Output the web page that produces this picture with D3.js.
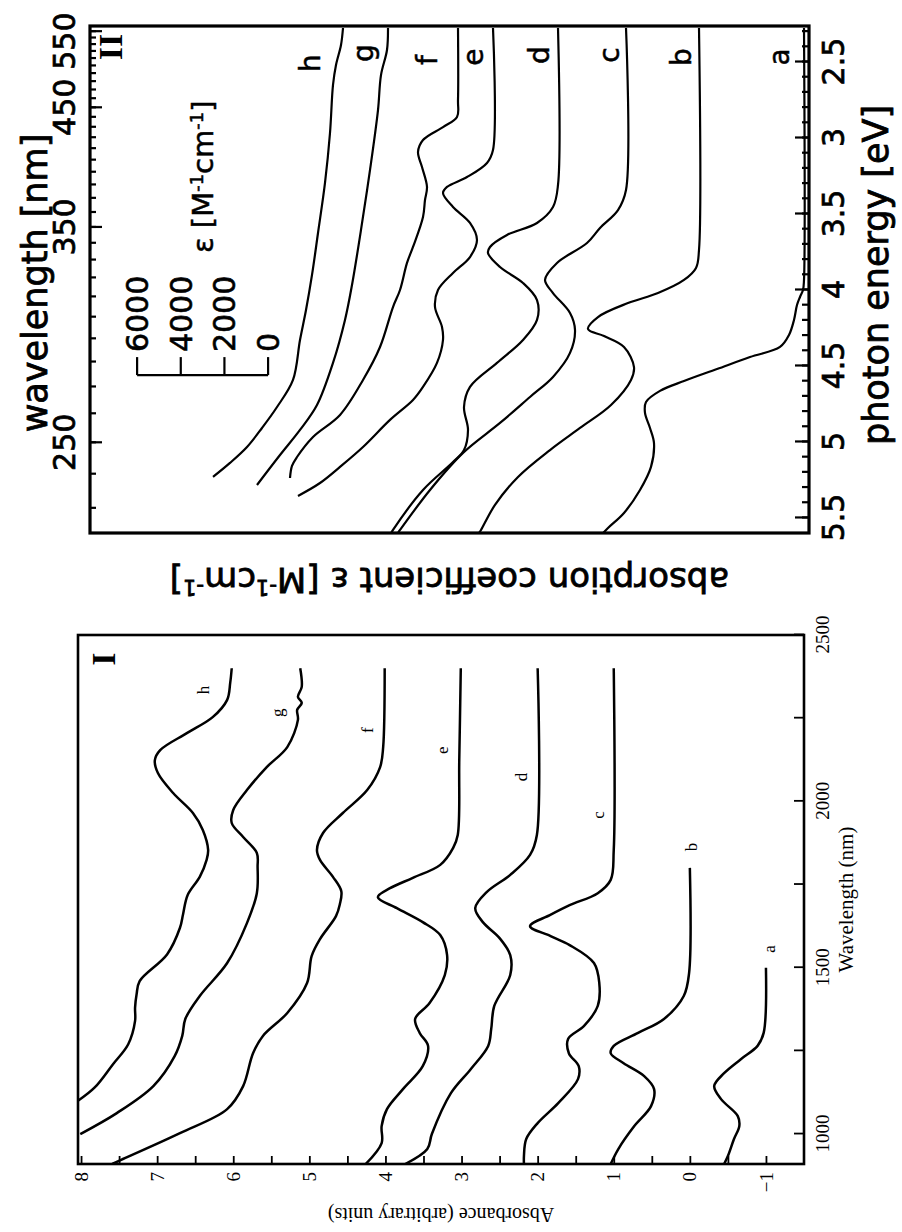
<!DOCTYPE html>
<html>
<head>
<meta charset="utf-8">
<script src="https://cdn.jsdelivr.net/npm/d3@7"></script>
<style>
  body { margin: 0; background: #fff; }
  .nir text { font-family: "Liberation Serif", "Times New Roman", serif; fill: #000; }
  .uv text { font-family: "DejaVu Sans", sans-serif; fill: #000; }
</style>
</head>
<body>
<div id="chart"></div>
<script>
// ---- Panel I: NIR absorbance, [wavelength nm, absorbance] ----
const nirNames = ["a", "b", "c", "d", "e", "f", "g", "h"];
const nirA = [[1500,-1.0],[1304,-0.97],[1265,-0.89],[1225,-0.67],[1183,-0.45],[1144,-0.32],[1105,-0.41],[1054,-0.63],[1024,-0.65],[985,-0.58],[934,-0.50],[910,-0.45]];
const nirB = [[1800,0.0],[1484,0.01],[1415,0.08],[1346,0.34],[1304,0.68],[1265,1.00],[1243,1.04],[1213,0.87],[1174,0.60],[1135,0.47],[1084,0.51],[1024,0.73],[955,0.94],[910,1.04]];
const nirC = [[2400,1.00],[1854,1.00],[1764,1.04],[1724,1.21],[1688,1.58],[1658,1.84],[1625,2.10],[1595,1.83],[1568,1.58],[1514,1.26],[1454,1.19],[1385,1.21],[1325,1.39],[1286,1.60],[1243,1.59],[1204,1.46],[1165,1.47],[1093,1.73],[1033,2.00],[985,2.15],[934,2.18],[910,2.18]];
const nirD = [[2400,2.00],[1899,2.01],[1839,2.10],[1779,2.36],[1727,2.67],[1679,2.82],[1637,2.72],[1589,2.50],[1538,2.36],[1478,2.36],[1385,2.57],[1316,2.61],[1265,2.65],[1195,2.88],[1123,3.14],[1000,3.39],[955,3.45],[910,3.74]];
const nirE = [[2400,3.01],[2124,3.03],[1899,3.05],[1860,3.11],[1809,3.28],[1770,3.64],[1739,3.94],[1712,4.10],[1679,3.85],[1637,3.51],[1598,3.28],[1538,3.19],[1478,3.22],[1394,3.42],[1346,3.61],[1304,3.55],[1265,3.44],[1204,3.51],[1135,3.77],[1075,3.98],[1024,4.05],[973,4.05],[910,4.26]];
const nirF = [[2400,4.01],[2163,4.03],[2103,4.07],[2034,4.24],[1965,4.56],[1905,4.82],[1854,4.90],[1824,4.86],[1773,4.69],[1730,4.58],[1690,4.60],[1655,4.65],[1586,4.86],[1535,4.97],[1454,5.03],[1364,5.29],[1295,5.61],[1243,5.74],[1144,5.87],[1075,6.08],[1003,6.70],[925,7.45],[910,7.59]];
const nirG = [[2400,5.12],[2344,5.10],[2314,5.15],[2296,5.10],[2275,5.16],[2245,5.15],[2163,5.29],[2103,5.56],[2034,5.82],[1974,6.00],[1935,6.02],[1893,5.87],[1845,5.69],[1803,5.68],[1724,5.69],[1634,5.82],[1514,6.08],[1415,6.44],[1346,6.63],[1295,6.67],[1234,6.77],[1144,7.05],[1063,7.53],[1000,8.01]];
const nirH = [[2400,6.02],[2356,6.04],[2305,6.08],[2253,6.27],[2205,6.61],[2154,6.96],[2124,7.03],[2085,6.99],[2025,6.79],[1965,6.53],[1914,6.40],[1854,6.33],[1824,6.35],[1773,6.44],[1718,6.60],[1660,6.66],[1620,6.70],[1540,6.87],[1460,7.23],[1420,7.27],[1380,7.29],[1340,7.29],[1270,7.38],[1210,7.58],[1140,7.82],[1100,8.04]];
const nirCurves = [nirA, nirB, nirC, nirD, nirE, nirF, nirG, nirH];
const nirLabelAt = [[1556,-1.04],[1863,-0.01],[1959,1.21],[2073,2.22],[2154,3.26],[2214,4.24],[2266,5.43],[2335,6.40]];
const nirWaveTicks = [1000, 1250, 1500, 1750, 2000, 2250, 2500];
const nirWaveLabels = [1000, 1500, 2000, 2500];
const nirAbsTicks = [-1, -0.5, 0, 0.5, 1, 1.5, 2, 2.5, 3, 3.5, 4, 4.5, 5, 5.5, 6, 6.5, 7, 7.5, 8];
const nirAbsLabels = [-1, 0, 1, 2, 3, 4, 5, 6, 7, 8];

// ---- Panel II: UV-vis, [photon energy eV, epsilon M-1 cm-1 above own baseline] ----
const uvNames = ["a", "b", "c", "d", "e", "f", "g", "h"];
const uvOffsets = [0, 4810, 8154, 11269, 14247, 15850, 19057, 21118];
const uvA = [[2.276,0],[3.934,0],[4.0,46],[4.046,183],[4.099,321],[4.197,458],[4.296,687],[4.375,1099],[4.441,2474],[4.520,3985],[4.599,5497],[4.664,6597],[4.737,7238],[4.809,7284],[4.908,7055],[5.007,6872],[5.164,7009],[5.316,7513],[5.467,8246],[5.566,8979],[5.599,9200]];
const uvB = [[2.276,0],[3.737,0],[3.855,137],[3.934,687],[4.020,1878],[4.086,3253],[4.178,4627],[4.257,5085],[4.303,4352],[4.375,3436],[4.507,2978],[4.592,3115],[4.757,4031],[4.908,5451],[5.053,6825],[5.230,8291],[5.414,9345],[5.579,9986],[5.599,10080]];
const uvC = [[2.276,0],[3.342,0],[3.474,366],[3.592,1191],[3.691,1787],[3.822,3161],[3.934,3711],[4.020,3344],[4.151,2565],[4.263,2336],[4.414,2565],[4.572,3344],[4.704,4398],[4.875,5772],[5.072,7467],[5.316,8979],[5.579,10353],[5.599,10450]];
const uvD = [[2.276,0],[3.309,0],[3.454,229],[3.559,962],[3.638,2336],[3.717,3115],[3.757,3207],[3.849,2657],[3.954,1603],[4.066,962],[4.197,962],[4.329,1603],[4.480,2795],[4.638,4031],[4.770,4306],[4.921,4123],[5.053,4306],[5.132,4810],[5.316,6184],[5.579,7558],[5.599,7640]];
const uvE = [[2.276,0],[3.079,0],[3.164,275],[3.257,1191],[3.322,2107],[3.362,2291],[3.454,1832],[3.559,1054],[3.671,733],[3.783,1054],[3.888,1832],[4.0,2520],[4.112,2657],[4.243,2336],[4.329,2291],[4.480,2566],[4.638,3207],[4.724,3665],[4.855,4718],[5.033,5955],[5.164,7009],[5.270,7925],[5.355,8933]];
const uvF = [[2.276,0],[2.75,0],[2.862,46],[2.928,687],[3.013,1603],[3.092,1832],[3.191,1649],[3.322,1420],[3.408,1512],[3.520,1603],[3.717,2061],[3.822,2336],[4.0,2657],[4.112,2978],[4.375,3573],[4.592,4352],[4.822,5405],[4.967,6642],[5.099,7375],[5.158,7605],[5.237,7696]];
const uvG = [[2.276,0],[2.421,46],[2.586,321],[2.816,458],[3.211,825],[3.605,1237],[3.967,1649],[4.197,1970],[4.480,2520],[4.757,3253],[4.921,4031],[5.086,4947],[5.283,6001]];
const uvH = [[2.276,0],[2.388,92],[2.520,321],[2.651,458],[2.967,596],[3.296,825],[3.625,1145],[3.901,1420],[4.132,1695],[4.329,1970],[4.592,2291],[4.770,3023],[4.908,3711],[5.033,4398],[5.138,5177],[5.230,5955]];
const uvCurves = [uvA, uvB, uvC, uvD, uvE, uvF, uvG, uvH];
const uvLabelAt = [[2.467,1145],[2.467,5635],[2.454,8933],[2.454,12140],[2.467,15163],[2.487,17270],[2.441,20202],[2.507,22630]];
const energyTicks = [2.5, 3, 3.5, 4, 4.5, 5, 5.5];
const energyMinor = [2.3,2.4,2.5,2.6,2.7,2.8,2.9,3.0,3.1,3.2,3.3,3.4,3.5,3.6,3.7,3.8,3.9,4.0,4.1,4.2,4.3,4.4,4.5,4.6,4.7,4.8,4.9,5.0,5.1,5.2,5.3,5.4,5.5];
const wavelengthTicks = [250, 350, 450, 550];
const wavelengthMinor = [230,240,250,260,270,280,290,300,310,320,330,340,350,360,370,380,390,400,410,420,430,440,450,460,470,480,490,500,510,520,530,540,550];
const insetTicks = [0, 2000, 4000, 6000];
const insetBase = 24550;   // epsilon level of the scale bar zero
const insetEnergy = 4.56;  // where the scale bar sits

const hc = 1239.84; // eV nm

const svg = d3.select("#chart")
  .append("svg")
  .attr("width", 902)
  .attr("height", 1232);

svg.append("rect").attr("width", 902).attr("height", 1232).attr("fill", "#fff");

// ============ Panel I (drawn upright, then turned 90 degrees) ============
const W1 = 529, H1 = 726;
const p1 = svg.append("g")
  .attr("class", "nir")
  .attr("transform", "translate(78,1164) rotate(-90)");

const x1 = d3.scaleLinear().domain([910, 2500]).range([0, W1]);
const y1 = d3.scaleLinear().domain([-1.5, 8.04]).range([H1, 0]);

p1.append("clipPath").attr("id", "clip1")
  .append("rect").attr("width", W1).attr("height", H1);

const xAxis1 = p1.append("g")
  .attr("transform", `translate(0,${H1})`)
  .call(d3.axisBottom(x1)
    .tickValues(nirWaveTicks)
    .tickSizeInner(-10)
    .tickSizeOuter(0)
    .tickPadding(12)
    .tickFormat(d => nirWaveLabels.includes(d) ? d : ""));

const yAxis1 = p1.append("g")
  .call(d3.axisLeft(y1)
    .tickValues(nirAbsTicks)
    .tickSizeInner(-8)
    .tickSizeOuter(0)
    .tickPadding(8)
    .tickFormat(d => nirAbsLabels.includes(d) ? (d < 0 ? "\u2212" + Math.abs(d) : d) : ""));

[xAxis1, yAxis1].forEach(ax => {
  ax.select(".domain").remove();
  ax.selectAll("line").attr("stroke", "#000").attr("stroke-width", 1.8);
  ax.selectAll("text").style("font-size", "19px");
});

const line1 = d3.line()
  .x(d => x1(d[0]))
  .y(d => y1(d[1]))
  .curve(d3.curveCatmullRom.alpha(0.5));

p1.append("g")
  .attr("clip-path", "url(#clip1)")
  .selectAll("path")
  .data(nirCurves)
  .join("path")
  .attr("d", line1)
  .attr("fill", "none")
  .attr("stroke", "#000")
  .attr("stroke-width", 2.5)
  .attr("stroke-linejoin", "round");

p1.append("g")
  .selectAll("text")
  .data(nirLabelAt)
  .join("text")
  .attr("x", d => x1(d[0]))
  .attr("y", d => y1(d[1]))
  .attr("dy", "0.35em")
  .attr("text-anchor", "middle")
  .style("font-size", "17px")
  .text((d, i) => nirNames[i]);

p1.append("rect")
  .attr("width", W1)
  .attr("height", H1)
  .attr("fill", "none")
  .attr("stroke", "#000")
  .attr("stroke-width", 2.6);

p1.append("text")
  .attr("x", W1 / 2)
  .attr("y", H1 + 49)
  .attr("text-anchor", "middle")
  .style("font-size", "21px")
  .text("Wavelength (nm)");

p1.append("text")
  .attr("transform", `translate(-44,${H1 / 2}) rotate(-90)`)
  .attr("text-anchor", "middle")
  .style("font-size", "20px")
  .text("Absorbance (arbitrary units)");

p1.append("text")
  .attr("x", 505)
  .attr("y", 37)
  .attr("text-anchor", "middle")
  .style("font-size", "34px")
  .style("font-weight", "bold")
  .text("I");

// ============ Panel II ============
const W2 = 507, H2 = 719;
const p2 = svg.append("g")
  .attr("class", "uv")
  .attr("transform", "translate(90,533) rotate(-90)");

const x2 = d3.scaleLinear().domain([5.599, 2.263]).range([0, W2]);
const y2 = d3.scaleLinear().domain([-229, 32708]).range([H2, 0]);
// the scanned wavelength scale sits a few pixels off the energy one
const x2w = x2.copy().range([-7, W2 - 7]);

p2.append("clipPath").attr("id", "clip2")
  .append("rect").attr("width", W2).attr("height", H2);

const eMinor = p2.append("g")
  .attr("transform", `translate(0,${H2})`)
  .call(d3.axisBottom(x2).tickValues(energyMinor).tickSizeInner(-7).tickSizeOuter(0).tickFormat(""));

const eMajor = p2.append("g")
  .attr("transform", `translate(0,${H2})`)
  .call(d3.axisBottom(x2).tickValues(energyTicks).tickSizeInner(-14).tickSizeOuter(0).tickPadding(14).tickFormat(d => String(d)));

const wMinor = p2.append("g")
  .call(d3.axisTop(x2w).tickValues(wavelengthMinor.map(l => hc / l)).tickSizeInner(-6).tickSizeOuter(0).tickFormat(""));

const wMajor = p2.append("g")
  .call(d3.axisTop(x2w).tickValues(wavelengthTicks.map(l => hc / l)).tickSizeInner(-12).tickSizeOuter(0).tickPadding(15)
    .tickFormat(e => Math.round(hc / e)));

[eMinor, eMajor, wMinor, wMajor].forEach(ax => {
  ax.select(".domain").remove();
  ax.selectAll("line").attr("stroke", "#000").attr("stroke-width", 2.2);
  ax.selectAll("text")
    .style("font-size", "30px")
    .attr("stroke", "#000")
    .attr("stroke-width", 0.7);
});

// the 550 label sits pulled in from the corner
wMajor.selectAll("text")
  .filter(e => Math.round(hc / e) === 550)
  .attr("x", -10);

const line2 = d3.line()
  .x(d => x2(d[0]))
  .y(d => y2(d[1]))
  .curve(d3.curveCatmullRom.alpha(0.5));

p2.append("g")
  .attr("clip-path", "url(#clip2)")
  .selectAll("path")
  .data(uvCurves.map((c, i) => c.map(p => [p[0], p[1] + uvOffsets[i]])))
  .join("path")
  .attr("d", line2)
  .attr("fill", "none")
  .attr("stroke", "#000")
  .attr("stroke-width", 2.2)
  .attr("stroke-linejoin", "round");

p2.append("g")
  .selectAll("text")
  .data(uvLabelAt)
  .join("text")
  .attr("x", d => x2(d[0]))
  .attr("y", d => y2(d[1]))
  .attr("dy", "0.35em")
  .attr("text-anchor", "middle")
  .style("font-size", "28px")
  .attr("stroke", "#000")
  .attr("stroke-width", 0.5)
  .text((d, i) => uvNames[i]);

p2.append("rect")
  .attr("width", W2)
  .attr("height", H2)
  .attr("fill", "none")
  .attr("stroke", "#000")
  .attr("stroke-width", 3.2);

// scale bar inset
const u0 = x2(insetEnergy);
const inset = p2.append("g");
inset.append("line")
  .attr("x1", u0).attr("x2", u0)
  .attr("y1", y2(insetBase)).attr("y2", y2(insetBase + 6000))
  .attr("stroke", "#000").attr("stroke-width", 2.4);
inset.selectAll(".tk")
  .data(insetTicks)
  .join("line")
  .attr("class", "tk")
  .attr("x1", u0).attr("x2", u0 + 18)
  .attr("y1", d => y2(insetBase + d)).attr("y2", d => y2(insetBase + d))
  .attr("stroke", "#000").attr("stroke-width", 2.2);
inset.selectAll(".lb")
  .data(insetTicks)
  .join("text")
  .attr("class", "lb")
  .attr("x", u0 + 23)
  .attr("y", d => y2(insetBase + d))
  .attr("dy", "0.36em")
  .style("font-size", "30px")
  .attr("stroke", "#000")
  .attr("stroke-width", 0.6)
  .text(d => d);

function epsUnits(sel, prefix) {
  sel.append("tspan").text(prefix + "[M");
  sel.append("tspan").attr("baseline-shift", "super").style("font-size", "62%").text("-1");
  sel.append("tspan").text("cm");
  sel.append("tspan").attr("baseline-shift", "super").style("font-size", "62%").text("-1");
  sel.append("tspan").text("]");
}

inset.append("text")
  .attr("x", x2(3.757))
  .attr("y", y2(insetBase + 3000) + 10)
  .style("font-size", "29px")
  .attr("stroke", "#000")
  .attr("stroke-width", 0.5)
  .call(epsUnits, "\u03b5 ");

p2.append("text")
  .attr("x", 250)
  .attr("y", -43)
  .attr("text-anchor", "middle")
  .style("font-size", "35px")
  .attr("stroke", "#000")
  .attr("stroke-width", 0.8)
  .text("wavelength [nm]");

p2.append("text")
  .attr("x", 258)
  .attr("y", H2 + 79)
  .attr("text-anchor", "middle")
  .style("font-size", "35px")
  .attr("stroke", "#000")
  .attr("stroke-width", 0.8)
  .text("photon energy [eV]");

p2.append("text")
  .attr("transform", `translate(-35,${H2 / 2}) rotate(-90)`)
  .attr("text-anchor", "middle")
  .style("font-size", "34px")
  .attr("stroke", "#000")
  .attr("stroke-width", 0.8)
  .call(epsUnits, "absorption coefficient \u03b5 ");

p2.append("text")
  .attr("x", 486)
  .attr("y", 32)
  .attr("text-anchor", "middle")
  .style("font-family", "'Liberation Serif', serif")
  .style("font-size", "34px")
  .style("font-weight", "bold")
  .text("II");
</script>
</body>
</html>
